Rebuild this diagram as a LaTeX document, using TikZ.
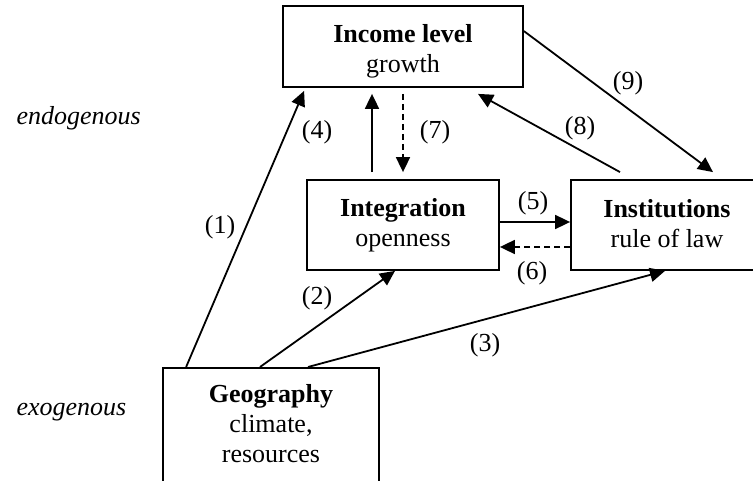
\documentclass[tikz,border=0pt]{standalone}
\usepackage{fontspec}
\setmainfont{Liberation Serif}
\usetikzlibrary{arrows.meta,calc}

\begin{document}
\begin{tikzpicture}[x=1pt, y=-1pt,
    every node/.style={font=\fontsize{26}{30}\selectfont},
    box/.style={draw, line width=1.8pt, align=center, inner sep=0pt},
    link/.style={line width=1.8pt, -{Triangle[length=15pt,width=14pt]}},
    back/.style={link, dash pattern=on 6pt off 4pt}]
  \useasboundingbox (0,0) rectangle (753,481);
  \clip (0,0) rectangle (753,481);
  % boxes
  \node[box, minimum width=240, minimum height=81] (inc) at (403,46.5)
    {\rule{0pt}{27pt}\textbf{Income level}\\growth};
  \node[box, minimum width=192, minimum height=90] (int) at (403,225)
    {\textbf{Integration}\\openness};
  \node[box, minimum width=192, minimum height=90] (ins) at (667,225)
    {\textbf{Institutions}\\rule of law\rule[-4pt]{0pt}{0pt}};
  \node[box, minimum width=216, minimum height=142, anchor=north] (geo) at (271,367)
    {\textbf{Geography}\\climate,\\resources\rule[-30pt]{0pt}{0pt}};
  \node[anchor=base west] (endo) at (13,125) {\textit{endogenous}};
  \node[anchor=base west] (exo) at (13,415) {\textit{exogenous}};
  % links
  \draw[link] ($(geo.north west)+(24,0)$) -- ($(inc.south west)+(22,3)$);
  \draw[link] ($(geo.north)+(-11,0)$) -- ($(int.south)+(-8,0)$);
  \draw[link] ($(geo.north)+(37,0)$) -- ($(ins.south)+(-2,0)$);
  \draw[link] ($(int.north)+(-31,-7)$) -- ($(inc.south)+(-31,6)$);
  \draw[back] ($(inc.south)+(0,6)$) -- ($(int.north)+(0,-7)$);
  \draw[link] ($(int.east)+(0,-3)$) -- ($(ins.west)+(0,-3)$);
  \draw[back] ($(ins.west)+(0,22)$) -- ($(int.east)+(0,22)$);
  \draw[link] ($(ins.north)+(-47,-7)$) -- ($(inc.south)+(75,6)$);
  \draw[link] ($(inc.north east)+(0,26)$) -- ($(ins.north)+(46,-7)$);
  % numbers
  \foreach \n/\p in {1/{220,227}, 2/{317,298}, 3/{485,345}, 4/{317,132},
                     5/{533,203}, 6/{532,273}, 7/{435,132}, 8/{580,128}, 9/{628,83}}
    \node (l\n) at (\p) {(\n)};
\end{tikzpicture}
\end{document}
